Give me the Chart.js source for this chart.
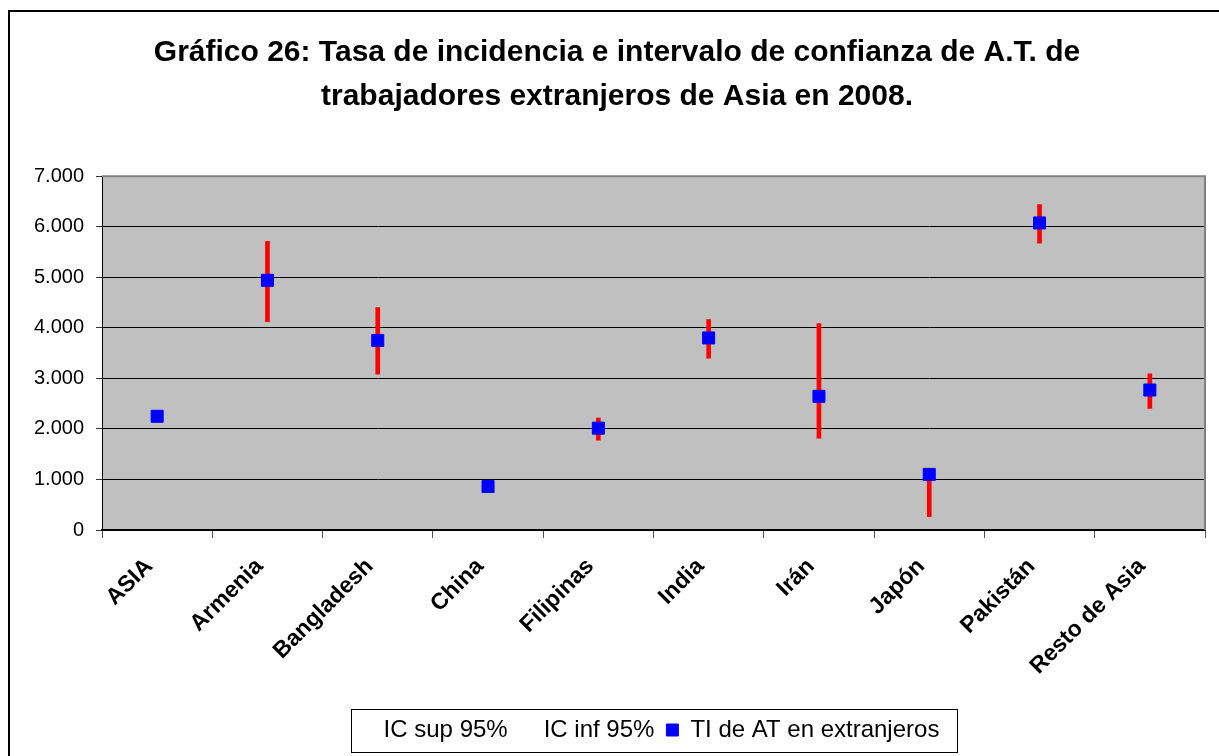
<!DOCTYPE html>
<html>
<head>
<meta charset="utf-8">
<script src="https://cdn.jsdelivr.net/npm/chart.js@4.4.0/dist/chart.umd.min.js"></script>
<style>
  html, body { margin: 0; padding: 0; background: #fff; overflow: hidden; }
  #wrap { width: 1219px; height: 756px; }
</style>
</head>
<body>
<div id="wrap"><canvas id="chart" width="1219" height="756"></canvas></div>
<script>
const categories = ['ASIA', 'Armenia', 'Bangladesh', 'China', 'Filipinas', 'India', 'Irán', 'Japón', 'Pakistán', 'Resto de Asia'];
const tiValues = [2250, 4940, 3750, 860, 2015, 3800, 2645, 1100, 6075, 2770];
const icSup = [2330, 5710, 4400, 960, 2215, 4165, 4085, 1180, 6440, 3090];
const icInf = [2150, 4120, 3085, 750, 1775, 3400, 1815, 265, 5675, 2405];
const yMin = 0;
const yMax = 7000;
const yStep = 1000;

const fontFamily = "'Liberation Sans', Arial, sans-serif";

function formatThousands(value) {
    return String(value).replace(/\B(?=(\d{3})+(?!\d))/g, '.');
}

// outer chart frame + grey plot area
const chartFrame = {
    id: 'chartFrame',
    beforeDraw(chart) {
        const { ctx, chartArea: a } = chart;
        ctx.save();
        ctx.strokeStyle = '#000';
        ctx.lineWidth = 2;
        ctx.strokeRect(9, 11, 1400, 1000);
        ctx.fillStyle = '#C0C0C0';
        ctx.fillRect(a.left, a.top, a.right - a.left, a.bottom - a.top);
        ctx.restore();
    },
    beforeDatasetsDraw(chart) {
        const { ctx, chartArea: a } = chart;
        ctx.save();
        ctx.strokeStyle = '#808080';
        ctx.lineWidth = 2;
        ctx.beginPath();
        ctx.moveTo(a.left, a.top);
        ctx.lineTo(a.right, a.top);
        ctx.lineTo(a.right, a.bottom);
        ctx.stroke();
        ctx.restore();
    }
};

// centre the legend under the plot and put a box round it
const legendBox = {
    id: 'legendBox',
    afterLayout(chart) {
        const lg = chart.legend;
        const mid = (chart.chartArea.left + chart.chartArea.right) / 2 - 4;
        const w = lg.right - lg.left;
        lg.left = mid - w / 2;
        lg.right = mid + w / 2;
    },
    afterDraw(chart) {
        const boxes = chart.legend.legendHitBoxes;
        if (!boxes.length) return;
        const first = boxes[0];
        const last = boxes[boxes.length - 1];
        const x1 = first.left - 9;
        const x2 = last.left + last.width + 17;
        const yc = first.top + first.height / 2;
        const ctx = chart.ctx;
        ctx.save();
        ctx.strokeStyle = '#000';
        ctx.lineWidth = 1;
        ctx.strokeRect(Math.round(x1) + 0.5, Math.round(yc - 21) + 0.5, Math.round(x2 - x1), 43);
        ctx.restore();
    }
};

const ctx = document.getElementById('chart').getContext('2d');
new Chart(ctx, {
    type: 'bar',
    data: {
        labels: categories,
        datasets: [{
            type: 'line',
            label: 'IC sup 95%',
            data: icSup,
            showLine: false,
            pointRadius: 0,
            order: 0
        }, {
            type: 'line',
            label: 'IC inf 95%',
            data: icInf,
            showLine: false,
            pointRadius: 0,
            order: 0
        }, {
            type: 'line',
            label: 'TI de AT en extranjeros',
            data: tiValues,
            showLine: false,
            pointStyle: 'rect',
            pointRadius: 8.5,
            pointHoverRadius: 8.5,
            backgroundColor: '#0000FF',
            borderColor: '#0000FF',
            borderWidth: 1,
            order: 0
        }, {
            // red confidence bars, from IC inf to IC sup
            label: 'intervalo',
            data: icInf.map((lo, i) => [lo, icSup[i]]),
            backgroundColor: '#FF0000',
            barThickness: 4,
            order: 1
        }]
    },
    options: {
        responsive: false,
        animation: false,
        devicePixelRatio: 1,
        layout: { padding: { left: 29, right: 14, top: 0, bottom: 4 } },
        plugins: {
            tooltip: { enabled: false },
            title: {
                display: true,
                text: ['Gráfico 26: Tasa de incidencia e intervalo de confianza de A.T. de',
                       'trabajadores extranjeros de Asia en 2008.'],
                color: '#000',
                font: { family: fontFamily, size: 30, weight: 'bold', lineHeight: 1.47 },
                padding: { top: 31, bottom: 57 }
            },
            legend: {
                position: 'bottom',
                labels: {
                    color: '#000',
                    font: { family: fontFamily, size: 24 },
                    usePointStyle: true,
                    boxWidth: 12,
                    boxHeight: 12,
                    padding: 12,
                    filter: (item) => item.datasetIndex !== 3,
                    generateLabels(chart) {
                        const items = Chart.defaults.plugins.legend.labels.generateLabels(chart);
                        items.forEach(item => {
                            if (item.datasetIndex < 2) {
                                item.fillStyle = 'rgba(0,0,0,0)';
                                item.strokeStyle = 'rgba(0,0,0,0)';
                                item.lineWidth = 0;
                            } else if (item.datasetIndex === 2) {
                                item.pointStyle = 'rect';
                            }
                        });
                        return items;
                    }
                }
            }
        },
        scales: {
            x: {
                grid: {
                    drawOnChartArea: false,
                    tickLength: 8,
                    tickColor: '#555'
                },
                border: { color: '#000', width: 2 },
                ticks: {
                    color: '#000',
                    autoSkip: false,
                    maxRotation: 45,
                    minRotation: 45,
                    padding: 15,
                    labelOffset: -8,
                    font: { family: fontFamily, size: 23, weight: 'bold' }
                },
                afterFit(scale) { scale.height = 176; }
            },
            y: {
                min: yMin,
                max: yMax,
                grid: {
                    color: (c) => c.tick && c.tick.value === yMax ? '#808080' : '#000',
                    tickColor: '#333',
                    tickLength: 6
                },
                border: { color: '#000', width: 1 },
                ticks: {
                    stepSize: yStep,
                    color: '#000',
                    padding: 12,
                    font: { family: fontFamily, size: 20 },
                    callback: (v) => formatThousands(v)
                },
                afterFit(scale) { scale.width = 73; }
            }
        }
    },
    plugins: [chartFrame, legendBox]
});
</script>
</body>
</html>
